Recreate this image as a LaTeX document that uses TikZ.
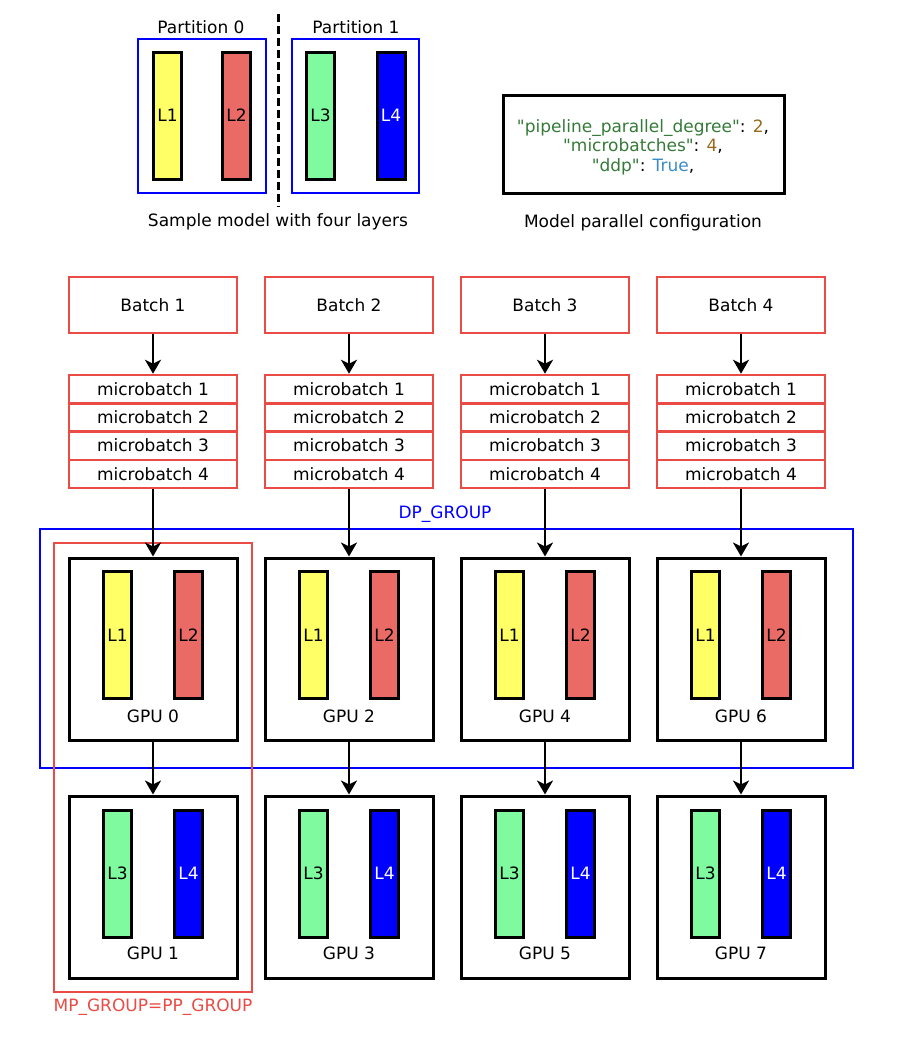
\documentclass[tikz,border=0pt]{standalone}
\usepackage{fontspec}
\setmainfont{DejaVu Sans}
\newfontfamily\codefont{DejaVu Sans}
\usepackage{tikz}
\usetikzlibrary{arrows.meta}
\usetikzlibrary{calc}
\definecolor{layeryellow}{HTML}{FFFF66}
\definecolor{layerred}{HTML}{EA6B66}
\definecolor{layergreen}{HTML}{7FFA9F}
\definecolor{layerblue}{HTML}{0000FF}
\definecolor{groupred}{HTML}{EA4B45}
\definecolor{keycolor}{HTML}{357A38}
\definecolor{numcolor}{HTML}{986A1E}
\definecolor{boolcolor}{HTML}{3A8CC8}

\begin{document}
\begin{tikzpicture}[x=1pt,y=-1pt,font=\fontsize{17}{19.5}\selectfont,
  layer/.style={draw=black,line width=3pt,minimum width=28pt,minimum height=127pt,inner sep=0pt,font=\fontsize{17}{19}\selectfont},
  partbox/.style={draw=layerblue,line width=2.5pt,minimum height=154pt,inner sep=0pt},
  batchbox/.style={draw=groupred,line width=2.5pt,minimum width=168pt,minimum height=56pt,inner sep=0pt},
  mbbox/.style={draw=groupred,line width=2.5pt,minimum width=168pt,minimum height=28.25pt,inner sep=0pt},
  gpubox/.style={draw=black,line width=3pt,minimum width=168pt,minimum height=182pt,inner sep=0pt},
  flow/.style={line width=2.5pt,-{Stealth[length=14pt,width=16pt,inset=4pt]}}]
\useasboundingbox (0,0) rectangle (912,1052);

%% sample model
\node[partbox,minimum width=128pt] (part0) at (202,116) {};
\node[partbox,minimum width=127pt] (part1) at (355.5,116) {};
\node (part0label) at (201,27) {Partition 0};
\node (part1label) at (356,27) {Partition 1};
\node[layer,fill=layeryellow] (l1) at (167.5,115.5) {L1};
\node[layer,fill=layerred] (l2) at (236.5,115.5) {L2};
\node[layer,fill=layergreen] (l3) at (320.5,115.5) {L3};
\node[layer,fill=layerblue,text=white] (l4) at (391,115.5) {L4};
\draw[line width=3pt,dash pattern=on 8pt off 4pt] (278,14) -- (278,207);
\node (samplecap) at (278,222) {Sample model with four layers};

%% configuration
\node[draw,line width=3pt,minimum width=281pt,minimum height=98pt,inner sep=0pt] (config) at (643.5,144) {};
\node[align=center,font=\codefont\fontsize{17}{19.5}\selectfont] (configtext) at (643,147) {\textcolor{keycolor}{"pipeline\_parallel\_degree"}: \textcolor{numcolor}{2},\\
  \textcolor{keycolor}{"microbatches"}: \textcolor{numcolor}{4},\\
  \textcolor{keycolor}{"ddp"}: \textcolor{boolcolor}{True},};
\node (configcap) at (643,223) {Model parallel configuration};

%% groups
\node[draw=layerblue,line width=2.5pt,minimum width=813pt,minimum height=239pt,inner sep=0pt] (dpgroup) at (446.5,648.5) {};
\node[text=layerblue] (dplabel) at (445,514) {DP\_GROUP};
\node[draw=groupred,line width=2.5pt,minimum width=198pt,minimum height=449pt,inner sep=0pt] (mpgroup) at (153,767.5) {};
\node[text=groupred] (mplabel) at (153,1007) {MP\_GROUP=PP\_GROUP};

%% batches, microbatches and gpus
\foreach \i in {0,...,3} {
  \pgfmathsetmacro\cx{153+196*\i}
  \pgfmathtruncatemacro\b{\i+1}
  \pgfmathtruncatemacro\gt{2*\i}
  \pgfmathtruncatemacro\gb{2*\i+1}
  \node[batchbox] (batch\b) at (\cx,305) {Batch \b};
  \foreach \k in {1,...,4}
    \node[mbbox] (mb\b-\k) at (\cx,{375+28.25*(\k-0.5)}) {microbatch \k};
  \node[gpubox] (gpu\gt) at (\cx,649) {};
  \node[gpubox] (gpu\gb) at (\cx,887) {};
  \node[layer,fill=layeryellow] (gpu\gt-l1) at ({\cx-35.5},635) {L1};
  \node[layer,fill=layerred] (gpu\gt-l2) at ({\cx+35.5},635) {L2};
  \node[layer,fill=layergreen] (gpu\gb-l3) at ({\cx-35.5},873.5) {L3};
  \node[layer,fill=layerblue,text=white] (gpu\gb-l4) at ({\cx+35.5},873.5) {L4};
  \node (gpu\gt-label) at (\cx,716) {GPU \gt};
  \node (gpu\gb-label) at (\cx,953) {GPU \gb};
  \draw[flow] (batch\b) -- (mb\b-1);
  \draw[flow] (mb\b-4) -- (gpu\gt);
  \draw[flow] (gpu\gt) -- (gpu\gb);
}
\end{tikzpicture}
\end{document}
